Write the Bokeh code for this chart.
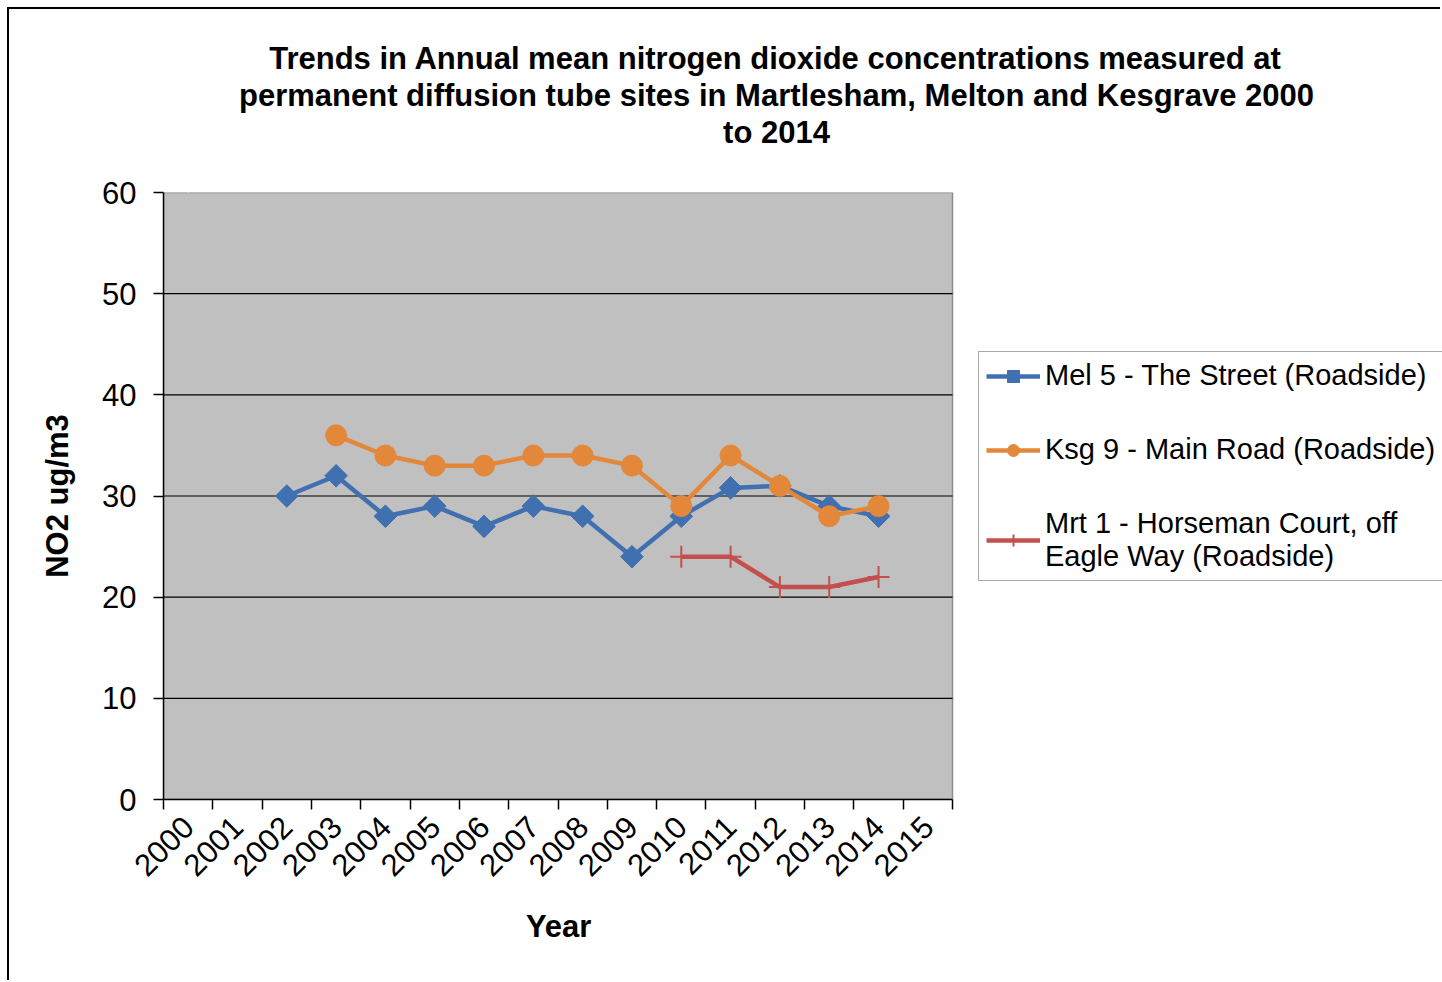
import math
from bokeh.plotting import figure
from bokeh.models import (Range1d, FixedTicker, Legend, LegendItem, Title,
                          LinearAxis)
from bokeh.embed import file_html
from bokeh.resources import INLINE

# ---- data ----
years = [2000, 2001, 2002, 2003, 2004, 2005, 2006, 2007,
         2008, 2009, 2010, 2011, 2012, 2013, 2014, 2015]
tick_labels = ["2000", "2001", "2002", "2003", "2004", "2005", "2006", "2007",
               "2008", "2009", "2010", "2011", "2012", "2013", "2014", "2015"]

mel_name = "Mel 5 - The Street (Roadside)"
mel_years = [2002, 2003, 2004, 2005, 2006, 2007, 2008, 2009, 2010, 2011, 2012, 2013, 2014]
mel_values = [30, 32, 28, 29, 27, 29, 28, 24, 28, 30.8, 31, 29, 28]

ksg_name = "Ksg 9 - Main Road (Roadside)"
ksg_years = [2003, 2004, 2005, 2006, 2007, 2008, 2009, 2010, 2011, 2012, 2013, 2014]
ksg_values = [36, 34, 33, 33, 34, 34, 33, 29, 34, 31, 28, 29]

mrt_name = "Mrt 1 - Horseman Court, off\nEagle Way (Roadside)"
mrt_years = [2010, 2011, 2012, 2013, 2014]
mrt_values = [24, 24, 21, 21, 22]

y_ticks = [0, 10, 20, 30, 40, 50, 60]
grid_ticks = [10, 20, 30, 40, 50]

title_lines = [
    "Trends in Annual mean nitrogen dioxide concentrations measured at",
    "permanent diffusion tube sites in Martlesham, Melton and Kesgrave 2000",
    "to 2014",
]
x_label = "Year"
y_label = "NO2 ug/m3"

FONT = "Liberation Sans"
BLUE = "#4170B0"
ORANGE = "#E3873A"
RED = "#C4504E"

# Arial/Liberation Sans Bold advance widths (per 1000 em), for centring text lines
BOLD_W = {" ": 278, ",": 278, "-": 333, ".": 278,
          "A": 722, "K": 722, "M": 833, "T": 611, "Y": 667,
          "a": 556, "b": 611, "c": 556, "d": 611, "e": 556, "f": 333, "g": 611,
          "h": 611, "i": 278, "j": 278, "k": 556, "l": 278, "m": 889, "n": 611,
          "o": 611, "p": 611, "q": 611, "r": 389, "s": 556, "t": 333, "u": 611,
          "v": 556, "w": 778, "x": 556, "y": 556, "z": 500}
TITLE_PX = 31


def text_width(s, px):
    return sum(BOLD_W.get(ch, 556) for ch in s) * px / 1000.0


# ---- layout geometry (canvas pixels) ----
CANVAS_W, CANVAS_H = 1433, 973
FRAME_LEFT = 154
AREA_W = 789                 # width of the grey plotting area
TITLE_CENTER = 767
XLABEL_CENTER = 550

x0 = years[0] - 0.5
x1 = years[-1] + 0.5
px_per_unit = AREA_W / (x1 - x0)
x_end = x0 + (CANVAS_W - FRAME_LEFT) / px_per_unit

p = figure(width=CANVAS_W, height=CANVAS_H,
           x_range=Range1d(x0, x_end),
           y_range=Range1d(y_ticks[0], y_ticks[-1]),
           output_backend="svg", toolbar_location=None,
           min_border_left=FRAME_LEFT, min_border_right=0,
           min_border_top=183, min_border_bottom=183)
p.margin = (7, 0, 0, 7)
p.styles = {"border-left": "2px solid #000", "border-top": "2px solid #000"}

p.background_fill_color = "white"
p.border_fill_color = "white"
p.outline_line_color = None

# grey plotting area and its horizontal gridlines
p.quad(left=[x0], right=[x1], bottom=[y_ticks[0]], top=[y_ticks[-1]],
       fill_color="#C0C0C0", line_color="#8C8C8C", line_width=1.5)
p.segment(x0=[x0] * len(grid_ticks), y0=grid_ticks,
          x1=[x1] * len(grid_ticks), y1=grid_ticks,
          line_color="black", line_width=1.2)

xa = p.xaxis[0]
xa.bounds = (x0, x1)
xa.ticker = FixedTicker(ticks=years,
                        minor_ticks=[y - 0.5 for y in years] + [x1])
xa.major_label_overrides = {y: s for y, s in zip(years, tick_labels)}
xa.major_label_orientation = math.pi / 4
xa.major_tick_line_color = None
xa.major_tick_out = 0
xa.major_tick_in = 0
xa.minor_tick_out = 10
xa.minor_tick_in = 0
xa.minor_tick_line_color = "black"
xa.minor_tick_line_width = 1.5
xa.axis_line_color = "black"
xa.axis_line_width = 1.5
xa.major_label_text_font = FONT
xa.major_label_text_font_size = "31px"
xa.major_label_text_color = "black"
xa.major_label_standoff = 12

ya = p.yaxis[0]
ya.ticker = FixedTicker(ticks=y_ticks)
ya.minor_tick_line_color = None
ya.major_tick_out = 10
ya.major_tick_in = 0
ya.major_tick_line_color = "black"
ya.major_tick_line_width = 1.5
ya.axis_line_color = "black"
ya.axis_line_width = 1.5
ya.major_label_text_font = FONT
ya.major_label_text_font_size = "31px"
ya.major_label_text_color = "black"
ya.major_label_standoff = 17
ya.axis_label = y_label
ya.axis_label_text_font = FONT
ya.axis_label_text_font_size = "31px"
ya.axis_label_text_font_style = "bold"
ya.axis_label_text_color = "black"
ya.axis_label_standoff = 24

p.xgrid.visible = False
p.ygrid.visible = False

l1 = p.line(mel_years, mel_values, line_color=BLUE, line_width=4.5)
s1 = p.scatter(mel_years, mel_values, marker="square", angle=math.pi / 4,
               size=16, fill_color=BLUE, line_color=BLUE)
l2 = p.line(ksg_years, ksg_values, line_color=ORANGE, line_width=4.5)
s2 = p.scatter(ksg_years, ksg_values, marker="circle", size=21,
               fill_color=ORANGE, line_color=ORANGE)
l3 = p.line(mrt_years, mrt_values, line_color=RED, line_width=4.5)
s3 = p.scatter(mrt_years, mrt_values, marker="cross", size=22,
               line_color=RED, line_width=2)

legend = Legend(items=[
    LegendItem(label=mel_name, renderers=[l1, s1]),
    LegendItem(label=ksg_name, renderers=[l2, s2]),
    LegendItem(label=mrt_name, renderers=[l3, s3]),
], location=(AREA_W + 26, 218))
legend.label_text_font = FONT
legend.label_text_font_size = "29px"
legend.label_text_color = "black"
legend.glyph_width = 54
legend.glyph_height = 30
legend.label_standoff = 5
legend.spacing = 41
legend.padding = 7
legend.margin = 0
legend.border_line_color = "#555555"
legend.border_line_width = 1.5
legend.background_fill_color = "white"
legend.background_fill_alpha = 1
p.add_layout(legend, "center")

# x-axis title, centred under the grey area
p.add_layout(Title(text=x_label, align="left",
                   offset=XLABEL_CENTER - FRAME_LEFT - text_width(x_label, TITLE_PX) / 2.0,
                   standoff=36, text_font=FONT, text_font_size=f"{TITLE_PX}px",
                   text_font_style="bold", text_color="black"), "below")

# spacer between title block and plot frame (an invisible white tick)
spacer = LinearAxis(ticker=FixedTicker(ticks=[years[0]]),
                    major_label_overrides={years[0]: ""},
                    axis_line_color=None, major_tick_line_color="white",
                    minor_tick_line_color=None, major_tick_out=43,
                    major_tick_in=0, minor_tick_out=0,
                    major_label_standoff=0, major_label_text_font_size="1px")
p.add_layout(spacer, "above")

# title lines, added nearest-to-frame first
for txt in reversed(title_lines):
    off = TITLE_CENTER - FRAME_LEFT - text_width(txt, TITLE_PX) / 2.0
    p.add_layout(Title(text=txt, align="left", offset=off, standoff=0,
                       text_font=FONT, text_font_size=f"{TITLE_PX}px",
                       text_font_style="bold", text_color="black"), "above")

open("out.html", "w").write(file_html(p, INLINE))
